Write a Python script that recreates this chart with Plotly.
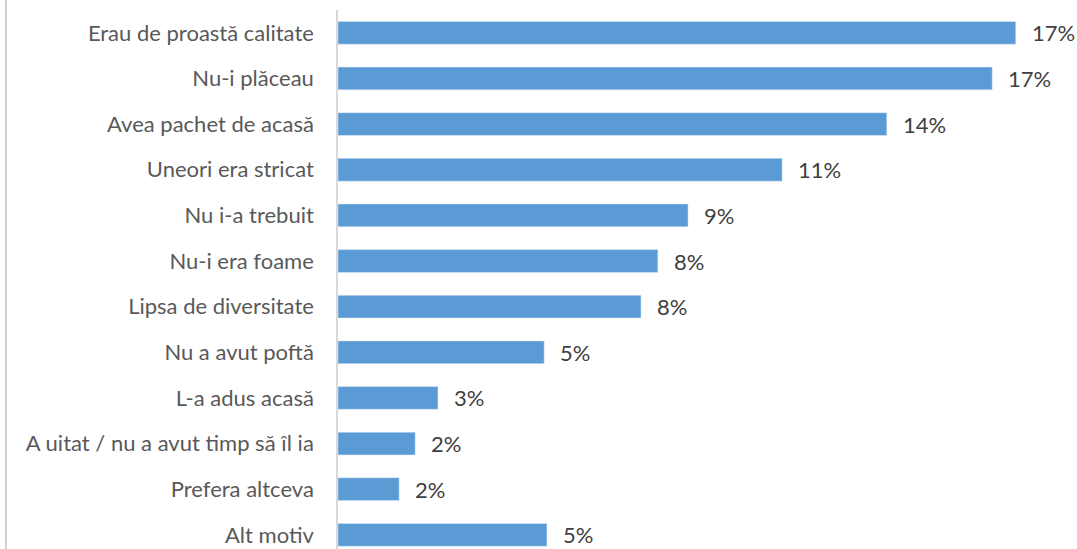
import plotly.graph_objects as go

categories = [
    "Erau de proastă calitate",
    "Nu-i plăceau",
    "Avea pachet de acasă",
    "Uneori era stricat",
    "Nu i-a trebuit",
    "Nu-i era foame",
    "Lipsa de diversitate",
    "Nu a avut poftă",
    "L-a adus acasă",
    "A uitat / nu a avut timp să îl ia",
    "Prefera altceva",
    "Alt motiv",
]
values = [17.29, 16.69, 14.0, 11.33, 8.93, 8.16, 7.73, 5.26, 2.55, 1.97, 1.56, 5.33]

W, H = 1077, 549
AXIS_X, MT = 338, 10
PX_PER_UNIT = 39.2
xmax = (W - AXIS_X) / PX_PER_UNIT
FONT = "Lato, 'Open Sans', sans-serif"

fig = go.Figure(
    go.Bar(
        x=values,
        y=categories,
        orientation="h",
        marker=dict(color="#5b9bd5"),
        hoverinfo="skip",
    )
)

annotations = []
for c, v in zip(categories, values):
    annotations.append(
        dict(
            x=v, y=c, xref="x", yref="y",
            text=f"{round(v)}%",
            showarrow=False, xanchor="left", yanchor="middle",
            xshift=14,
            font=dict(family=FONT, size=22, color="#404040"),
        )
    )

fig.update_layout(
    width=W, height=H, autosize=False,
    margin=dict(l=0, r=0, t=MT, b=0),
    paper_bgcolor="white", plot_bgcolor="white",
    showlegend=False,
    bargap=0.5,
    annotations=annotations,
    shapes=[
        dict(type="line", xref="paper", yref="paper", layer="above",
             x0=6 / W, x1=6 / W, y0=0, y1=1.05,
             line=dict(color="#d0d0d0", width=2)),
    ],
)
fig.update_xaxes(domain=[AXIS_X / W, 1], range=[0, xmax], visible=False, fixedrange=True)
fig.update_yaxes(
    categoryorder="array", categoryarray=categories,
    range=[11.31, -0.5],
    showline=True, linecolor="#d9d9d9", linewidth=1.5,
    showgrid=False, zeroline=False,
    ticks="", ticklabelstandoff=18,
    tickfont=dict(family=FONT, size=22, color="#595959"),
    fixedrange=True,
)

fig.write_html(
    "out.html",
    config={"displayModeBar": False},
    post_script="document.body.style.margin='0';document.body.style.overflow='hidden';",
)
